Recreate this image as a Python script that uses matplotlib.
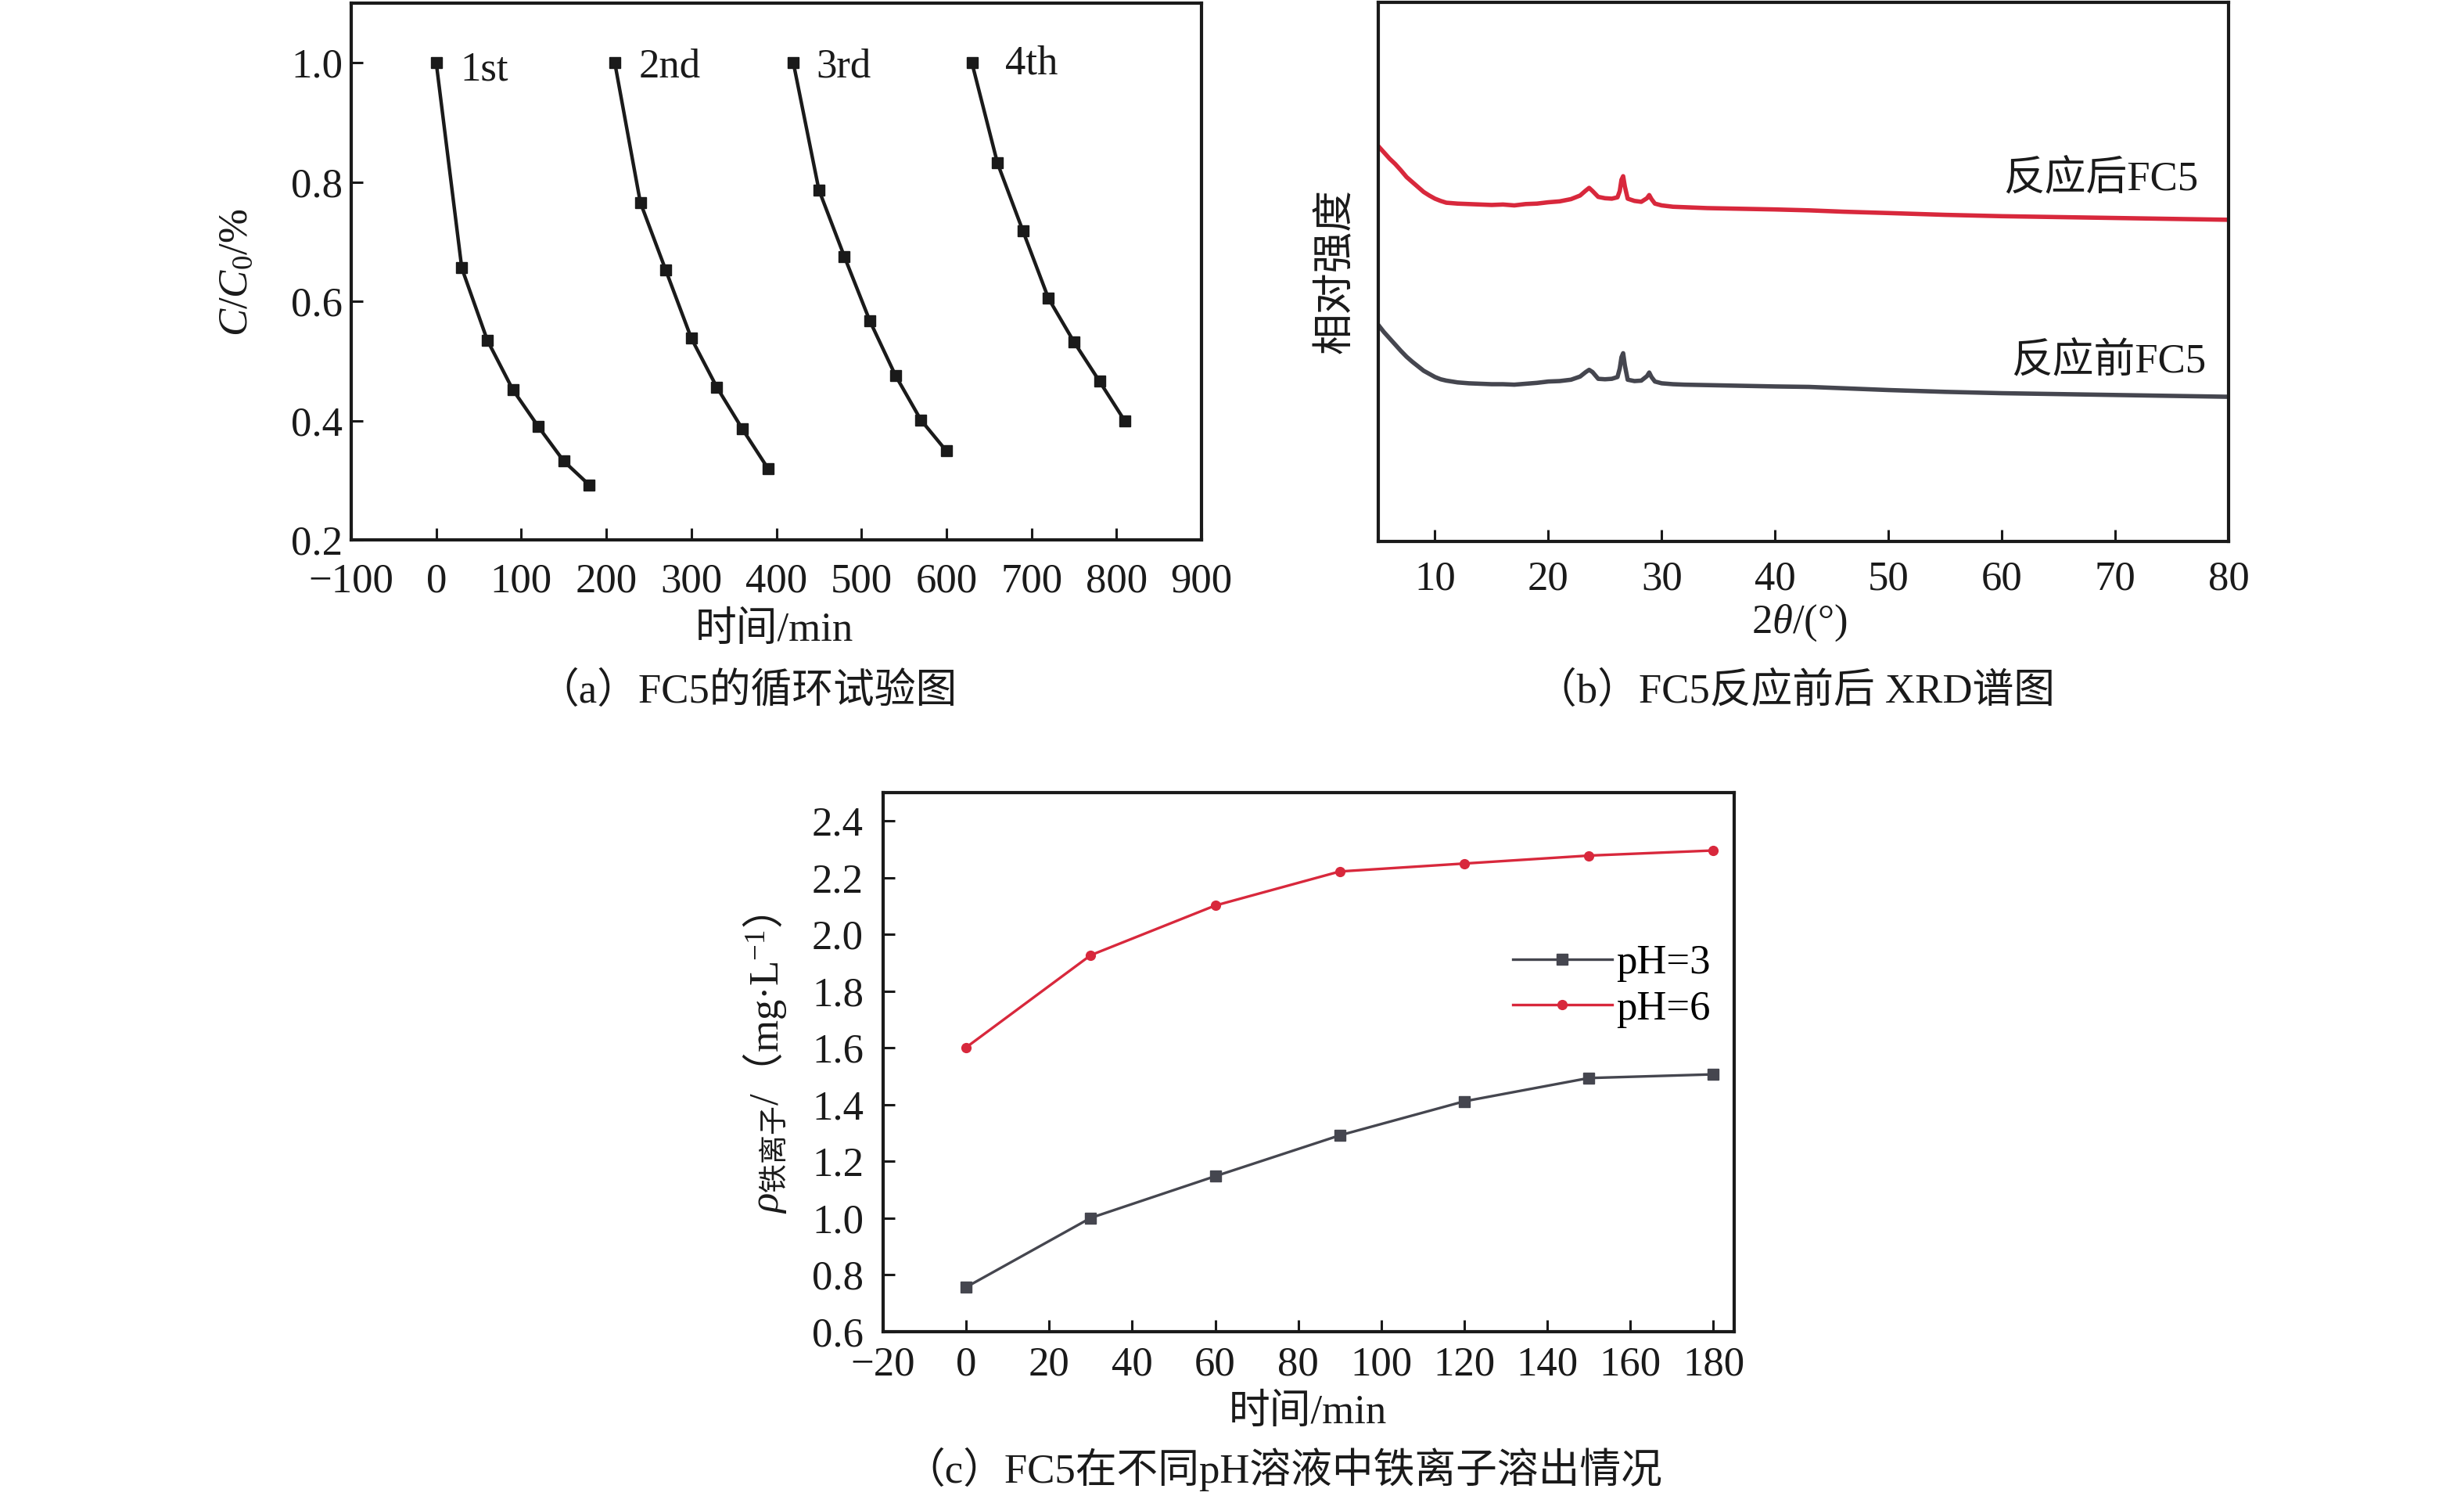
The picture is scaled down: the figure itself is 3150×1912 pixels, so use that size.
import matplotlib
matplotlib.use("Agg")
import matplotlib.pyplot as plt

plt.rcParams['font.family'] = ['Liberation Serif', 'Noto Sans CJK SC', 'DejaVu Sans']
plt.rcParams['mathtext.fontset'] = 'custom'
plt.rcParams['mathtext.rm'] = 'Liberation Serif'
plt.rcParams['mathtext.it'] = 'Liberation Serif:italic'
plt.rcParams['mathtext.sf'] = 'Noto Sans CJK SC'

# ---------------- data ----------------
# (a) cycling test
cyc_labels = ['1st', '2nd', '3rd', '4th']
cyc1_t = [0, 30, 60, 90, 120, 150, 180]
cyc1_c = [1.0, 0.656, 0.535, 0.452, 0.390, 0.332, 0.292]
cyc2_t = [210, 240, 270, 300, 330, 360, 390]
cyc2_c = [1.0, 0.766, 0.652, 0.538, 0.456, 0.386, 0.320]
cyc3_t = [420, 450, 480, 510, 540, 570, 600]
cyc3_c = [1.0, 0.787, 0.675, 0.567, 0.476, 0.401, 0.349]
cyc4_t = [630, 660, 690, 720, 750, 780, 810]
cyc4_c = [1.0, 0.832, 0.718, 0.605, 0.532, 0.466, 0.399]
xticks_a = [-100, 0, 100, 200, 300, 400, 500, 600, 700, 800, 900]
yticks_a = [0.2, 0.4, 0.6, 0.8, 1.0]

# (b) XRD (relative intensity, arbitrary units)
xrd_2theta = [5.0, 5.5, 6.0, 6.5, 7.0, 7.5, 8.0, 8.5, 9.0, 9.5, 10.0, 10.5, 11.0, 12.0, 13.0,
              14.0, 15.0, 16.0, 17.0, 18.0, 19.0, 20.0, 21.0, 22.0, 22.8, 23.3, 23.6, 23.9,
              24.4, 25.0, 25.6, 26.1, 26.3, 26.45, 26.6, 26.75, 27.0, 27.6, 28.2, 28.7, 28.9,
              29.1, 29.4, 30.0, 31.0, 32.0, 34.0, 36.0, 38.0, 40.0, 43.0, 46.0, 50.0, 55.0,
              60.0, 65.0, 70.0, 75.0, 80.0]
xrd_after = [880, 866, 852, 840, 826, 811, 800, 789, 778, 770, 763, 758, 754, 752, 751,
             750, 749, 750, 748, 751, 752, 755, 757, 762, 770, 781, 787, 780,
             767, 764, 763, 766, 780, 805, 813, 790, 763, 758, 756, 764, 771,
             762, 752, 748, 745, 744, 742, 741, 740, 739, 737, 734, 731, 727,
             724, 722, 720, 718, 716]
xrd_before = [482, 466, 452, 438, 424, 411, 400, 390, 380, 373, 366, 361, 358, 354, 352,
              351, 350, 350, 349, 351, 353, 356, 357, 360, 367, 377, 382, 377,
              362, 361, 362, 366, 385, 410, 419, 392, 360, 357, 358, 368, 376,
              366, 356, 352, 350, 349, 348, 347, 346, 345, 344, 341, 337, 333,
              330, 328, 326, 324, 322]
xticks_b = [10, 20, 30, 40, 50, 60, 70, 80]

# (c) iron leaching
leach_t = [0, 30, 60, 90, 120, 150, 180]
leach_ph3 = [0.757, 1.001, 1.148, 1.292, 1.412, 1.494, 1.507]
leach_ph6 = [1.602, 1.927, 2.102, 2.222, 2.250, 2.278, 2.296]
xticks_c = [-20, 0, 20, 40, 60, 80, 100, 120, 140, 160, 180]
yticks_c = [0.6, 0.8, 1.0, 1.2, 1.4, 1.6, 1.8, 2.0, 2.2, 2.4]

# ---------------- figure ----------------
W, H = 3150, 1912
fig = plt.figure(figsize=(W / 100, H / 100), dpi=100)

def rect(l, r, t, b):
    return [l / W, 1 - b / H, (r - l) / W, (b - t) / H]

FS = 38
BLACK = '#1a1a1a'
GRAY = '#45464f'
RED = '#d8283c'

def style(ax, lw=3.0):
    for s in ax.spines.values():
        s.set_linewidth(lw)
        s.set_color(BLACK)
    ax.tick_params(direction='in', length=11, width=2.2, labelsize=FS,
                   top=False, right=False, colors=BLACK)

# (a)
axa = fig.add_axes(rect(449, 1536, 4, 690))
for t, c in [(cyc1_t, cyc1_c), (cyc2_t, cyc2_c), (cyc3_t, cyc3_c), (cyc4_t, cyc4_c)]:
    axa.plot(t, c, color=BLACK, lw=3.2, marker='s', markersize=10.5)
axa.set_xlim(-100, 900)
axa.set_ylim(0.2, 1.1)
axa.set_xticks(xticks_a)
axa.set_xticklabels(['\u2212100' if v < 0 else str(v) for v in xticks_a])
axa.set_yticks(yticks_a)
axa.set_yticklabels([f'{v:.1f}' for v in yticks_a])
style(axa)
axa.tick_params(axis='x', pad=21)
axa.tick_params(axis='y', pad=8)
for lab, t0, y0 in zip(cyc_labels, [28, 238, 447, 669], [0.988, 0.993, 0.993, 0.998]):
    axa.text(t0, y0, lab, fontsize=FS, va='center', ha='left', color=BLACK)
fig.text(303 / W, 1 - 348 / H, r'$C$/$C_0$/%', rotation=90, fontsize=FS,
         ha='center', va='center', color=BLACK)
fig.text(990 / W, 1 - 806 / H, '时间/min', fontsize=FS, ha='center', va='center', color=BLACK)
fig.text(955 / W, 1 - 884 / H, '（a）FC5的循环试验图', fontsize=FS, ha='center', va='center', color=BLACK)

# (b)
axb = fig.add_axes(rect(1762, 2849, 3, 692))
axb.plot(xrd_2theta, xrd_after, color=RED, lw=4.0)
axb.plot(xrd_2theta, xrd_before, color=GRAY, lw=4.0)
axb.set_xlim(5, 80)
axb.set_ylim(0, 1200)
axb.set_xticks(xticks_b)
axb.set_yticks([])
style(axb)
axb.tick_params(axis='x', pad=18)
axb.text(77.3, 805, '反应后FC5', fontsize=FS, ha='right', va='center', color=BLACK)
axb.text(78.0, 400, '反应前FC5', fontsize=FS, ha='right', va='center', color=BLACK)
fig.text(1708 / W, 1 - 346 / H, '相对强度', rotation=90, fontsize=FS,
         ha='center', va='center', color=BLACK)
fig.text(2300 / W, 1 - 796 / H, r'2$\theta$/(°)', fontsize=FS, ha='center', va='center', color=BLACK)
fig.text(2295 / W, 1 - 884 / H, '（b）FC5反应前后 XRD谱图', fontsize=FS, ha='center', va='center', color=BLACK)

# (c)
axc = fig.add_axes(rect(1129, 2217, 1013, 1702))
axc.plot(leach_t, leach_ph3, color=GRAY, lw=2.4, marker='s', markersize=10.5, label='pH=3')
axc.plot(leach_t, leach_ph6, color=RED, lw=2.4, marker='o', markersize=8.5, label='pH=6')
axc.set_xlim(-20, 185)
axc.set_ylim(0.6, 2.5)
axc.set_xticks(xticks_c)
axc.set_xticklabels(['\u221220' if v < 0 else str(v) for v in xticks_c])
axc.set_yticks(yticks_c)
axc.set_yticklabels([f'{v:.1f}' for v in yticks_c])
style(axc)
axc.tick_params(axis='x', pad=13)
axc.tick_params(axis='y', pad=18)
leg = axc.legend(loc='upper left', bbox_to_anchor=((1934 - 1129) / 1088, (1702 - 1207) / 689),
                 frameon=False, fontsize=FS, handlelength=2.4, handletextpad=0.1,
                 labelspacing=0.2, borderaxespad=0, borderpad=0)
fig.text(978 / W, 1 - 1360 / H,
         r'$\mathit{\rho}_{\mathsf{铁离子}}$/$\mathsf{（}$mg·L$^{-1}\mathsf{）}$',
         rotation=90, fontsize=FS, ha='center', va='center', color=BLACK)
fig.text(1672 / W, 1 - 1806 / H, '时间/min', fontsize=FS, ha='center', va='center', color=BLACK)
fig.text(1640 / W, 1 - 1878 / H, '（c）FC5在不同pH溶液中铁离子溶出情况', fontsize=FS,
         ha='center', va='center', color=BLACK)

fig.savefig('out.png', dpi=100)
